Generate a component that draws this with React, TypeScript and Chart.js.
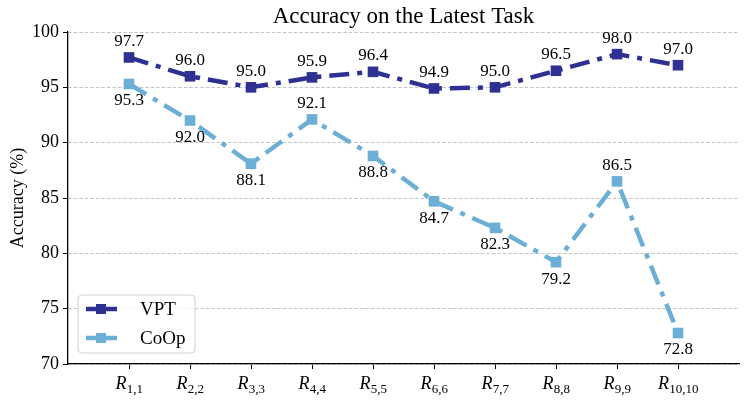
import { useEffect, useRef } from 'react'
import { Chart, registerables } from 'chart.js'

Chart.register(...registerables)

const categories = ['1,1', '2,2', '3,3', '4,4', '5,5', '6,6', '7,7', '8,8', '9,9', '10,10']
const vptValues = [97.7, 96.0, 95.0, 95.9, 96.4, 94.9, 95.0, 96.5, 98.0, 97.0]
const coopValues = [95.3, 92.0, 88.1, 92.1, 88.8, 84.7, 82.3, 79.2, 86.5, 72.8]
// label above (true) or below (false) each point
const coopAbove = [false, false, false, true, false, false, false, false, true, false]
const yTicks = [70, 75, 80, 85, 90, 95, 100]

const VPT_COLOR = '#2e3192'
const COOP_COLOR = '#6baed6'
const FONT = '"Liberation Serif", "DejaVu Serif", serif'

const labelsPlugin = {
  id: 'pointLabels',
  afterDatasetsDraw(chart: any) {
    const ctx = chart.ctx
    ctx.save()
    ctx.font = `17px ${FONT}`
    ctx.fillStyle = '#000'
    ctx.textAlign = 'center'
    ctx.textBaseline = 'middle'
    chart.data.datasets.forEach((ds: any, di: number) => {
      const meta = chart.getDatasetMeta(di)
      meta.data.forEach((pt: any, i: number) => {
        const above = di === 0 ? true : coopAbove[i]
        const v = ds.data[i].y as number
        ctx.fillText(v.toFixed(1), pt.x, pt.y + (above ? -16 : 17))
      })
    })
    ctx.restore()
  },
}

const decorPlugin = {
  id: 'decor',
  afterDraw(chart: any) {
    const ctx = chart.ctx
    const area = chart.chartArea
    const xs = chart.scales.x
    ctx.save()
    // title
    ctx.font = `23px ${FONT}`
    ctx.fillStyle = '#000'
    ctx.textAlign = 'center'
    ctx.textBaseline = 'middle'
    ctx.fillText('Accuracy on the Latest Task', (area.left + area.right) / 2, 17)

    // x tick labels R_{i,i}
    categories.forEach((c, i) => {
      const x = xs.getPixelForValue(i + 1)
      ctx.font = `italic 18px ${FONT}`
      const rw = ctx.measureText('R').width
      ctx.font = `13px ${FONT}`
      const sw = ctx.measureText(c).width
      const start = x - (rw + sw) / 2
      ctx.textAlign = 'left'
      ctx.textBaseline = 'alphabetic'
      ctx.font = `italic 18px ${FONT}`
      ctx.fillText('R', start, area.bottom + 25)
      ctx.font = `13px ${FONT}`
      ctx.fillText(c, start + rw + 0.5, area.bottom + 29)
    })

    // legend
    const bx = 78, by = 295, bw = 117, bh = 58
    ctx.beginPath()
    ctx.roundRect(bx, by, bw, bh, 4)
    ctx.fillStyle = 'rgba(255,255,255,0.8)'
    ctx.fill()
    ctx.strokeStyle = '#d0d0d0'
    ctx.lineWidth = 1
    ctx.stroke()
    const items = [
      { label: 'VPT', color: VPT_COLOR, y: 309 },
      { label: 'CoOp', color: COOP_COLOR, y: 338 },
    ]
    items.forEach((it) => {
      ctx.strokeStyle = it.color
      ctx.lineWidth = 4.5
      ctx.beginPath()
      ctx.moveTo(86, it.y)
      ctx.lineTo(117, it.y)
      ctx.stroke()
      ctx.fillStyle = it.color
      ctx.fillRect(96, it.y - 5, 10, 10)
      ctx.fillStyle = '#000'
      ctx.font = `19px ${FONT}`
      ctx.textAlign = 'left'
      ctx.textBaseline = 'middle'
      ctx.fillText(it.label, 140, it.y + 1)
    })
    ctx.restore()
  },
}

export default function App() {
  const chartRef = useRef<HTMLCanvasElement>(null)
  const chartInstance = useRef<Chart | null>(null)

  useEffect(() => {
    if (!chartRef.current) return
    if (chartInstance.current) chartInstance.current.destroy()

    const lineOpts = {
      borderWidth: 4.5,
      borderDash: [20, 8, 5, 8],
      pointStyle: 'rect',
      pointRadius: 7.5,
      pointHoverRadius: 7.5,
      pointBorderWidth: 0,
      tension: 0,
      fill: false,
    }

    chartInstance.current = new Chart(chartRef.current, {
      type: 'line',
      data: {
        datasets: [
          {
            label: 'VPT',
            data: vptValues.map((v, i) => ({ x: i + 1, y: v })),
            borderColor: VPT_COLOR,
            backgroundColor: VPT_COLOR,
            pointBackgroundColor: VPT_COLOR,
            ...lineOpts,
          },
          {
            label: 'CoOp',
            data: coopValues.map((v, i) => ({ x: i + 1, y: v })),
            borderColor: COOP_COLOR,
            backgroundColor: COOP_COLOR,
            pointBackgroundColor: COOP_COLOR,
            ...lineOpts,
          },
        ],
      },
      options: {
        animation: false,
        responsive: true,
        maintainAspectRatio: false,
        layout: { padding: { left: 0, right: 8, top: 32, bottom: 0 } },
        plugins: {
          legend: { display: false },
          title: { display: false },
          tooltip: { enabled: false },
        },
        scales: {
          x: {
            type: 'linear',
            min: 0,
            max: categories.length + 1,
            afterBuildTicks: (scale: any) => {
              scale.ticks = categories.map((_, i) => ({ value: i + 1 }))
            },
            afterFit: (scale: any) => {
              scale.height = 36
            },
            ticks: { display: false },
            grid: {
              drawOnChartArea: false,
              drawTicks: true,
              tickLength: 5,
              tickColor: '#000',
              tickWidth: 1,
            },
            border: { display: true, color: '#000', width: 1.3 },
          },
          y: {
            min: 70,
            max: 100,
            afterBuildTicks: (scale: any) => {
              scale.ticks = yTicks.map((v) => ({ value: v }))
            },
            afterFit: (scale: any) => {
              scale.width = 68
            },
            ticks: {
              color: '#000',
              font: { family: FONT, size: 18 },
              padding: 4,
            },
            title: {
              display: true,
              text: 'Accuracy (%)',
              color: '#000',
              font: { family: FONT, size: 18 },
              padding: { top: 7, bottom: 0 },
            },
            grid: {
              color: '#b4b4b4',
              lineWidth: 0.8,
              drawTicks: true,
              tickLength: 5,
              tickColor: '#000',
              tickBorderDash: [],
              tickWidth: 1,
            },
            border: { display: true, color: '#000', width: 1.3, dash: [3.5, 2] },
          },
        },
      } as any,
      plugins: [labelsPlugin, decorPlugin],
    })

    return () => {
      if (chartInstance.current) {
        chartInstance.current.destroy()
        chartInstance.current = null
      }
    }
  }, [])

  return (
    <div style={{ position: 'fixed', left: 0, top: 0, width: 747, height: 400, background: '#fff' }}>
      <canvas ref={chartRef} />
    </div>
  )
}
